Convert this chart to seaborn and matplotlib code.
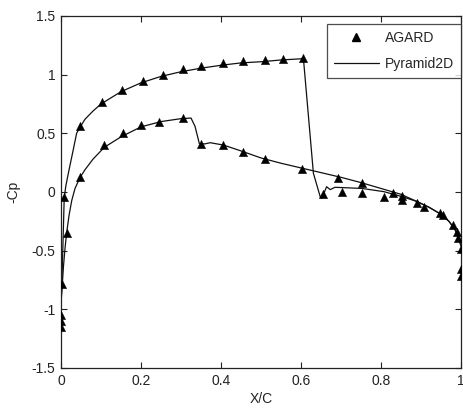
import seaborn as sns
import matplotlib.pyplot as plt
import pandas as pd
from matplotlib.lines import Line2D

# AGARD experimental points (upper and lower surface)
agard_upper_x = [0.0, 0.0, 0.0, 0.002, 0.008, 0.0475, 0.102, 0.152, 0.206, 0.254, 0.306, 0.35,
                 0.406, 0.454, 0.51, 0.556, 0.604, 0.656, 0.702, 0.753, 0.807, 0.853,
                 0.889, 0.948, 0.991, 1.0, 1.0]
agard_upper_cp = [-1.05, -1.10, -1.15, -0.78, -0.04, 0.56, 0.77, 0.87, 0.95, 1.0, 1.045, 1.07,
                  1.1, 1.115, 1.125, 1.135, 1.14, -0.02, 0.0, -0.005, -0.04, -0.07,
                  -0.09, -0.18, -0.34, -0.66, -0.72]
agard_lower_x = [0.014, 0.0475, 0.108, 0.154, 0.199, 0.246, 0.304, 0.35, 0.406, 0.454, 0.51,
                 0.602, 0.693, 0.753, 0.831, 0.852, 0.907, 0.954, 0.981, 0.993, 1.0]
agard_lower_cp = [-0.35, 0.125, 0.40, 0.50, 0.57, 0.60, 0.63, 0.41, 0.40, 0.345, 0.28,
                  0.20, 0.115, 0.075, -0.01, -0.03, -0.13, -0.2, -0.28, -0.39, -0.49]

# Pyramid2D computed distribution
pyr_upper_x = [0.0, 0.002, 0.004, 0.006, 0.008, 0.012, 0.016, 0.022, 0.03, 0.039, 0.047, 0.06,
               0.08, 0.1, 0.15, 0.2, 0.25, 0.3, 0.35, 0.4, 0.45, 0.5, 0.55, 0.6, 0.606,
               0.631, 0.648, 0.652, 0.664, 0.673, 0.685, 0.72, 0.753, 0.807, 0.853, 0.889,
               0.92, 0.95, 0.97, 0.985, 0.995, 1.0]
pyr_upper_cp = [-0.95, -0.8, -0.55, -0.3, -0.05, 0.05, 0.12, 0.22, 0.35, 0.5, 0.55, 0.62,
                0.69, 0.75, 0.855, 0.93, 0.985, 1.025, 1.055, 1.08, 1.1, 1.11, 1.125, 1.135,
                1.14, 0.16, -0.04, -0.055, 0.045, 0.02, 0.04, 0.035, 0.03, 0.003, -0.04,
                -0.08, -0.13, -0.19, -0.25, -0.32, -0.4, -0.46]
pyr_lower_x = [0.0, 0.003, 0.006, 0.01, 0.014, 0.02, 0.027, 0.035, 0.047, 0.06, 0.08, 0.108,
               0.15, 0.2, 0.25, 0.3, 0.325, 0.335, 0.346, 0.36, 0.373, 0.406, 0.45, 0.5,
               0.55, 0.6, 0.65, 0.7, 0.75, 0.8, 0.85, 0.889, 0.92, 0.95, 0.97, 0.985,
               0.995, 1.0]
pyr_lower_cp = [-0.95, -0.8, -0.64, -0.48, -0.35, -0.2, -0.07, 0.03, 0.12, 0.19, 0.28, 0.38,
                0.47, 0.555, 0.6, 0.625, 0.63, 0.56, 0.41, 0.41, 0.42, 0.40, 0.35, 0.29,
                0.245, 0.205, 0.165, 0.125, 0.08, 0.03, -0.02, -0.08, -0.13, -0.19, -0.25,
                -0.32, -0.4, -0.46]

agard = pd.DataFrame({"x": agard_upper_x + agard_lower_x,
                      "cp": agard_upper_cp + agard_lower_cp})
upper = pd.DataFrame({"x": pyr_upper_x, "cp": pyr_upper_cp})
lower = pd.DataFrame({"x": pyr_lower_x, "cp": pyr_lower_cp})

sns.set_style("white")
plt.rcParams["font.family"] = ["Liberation Sans", "DejaVu Sans"]
plt.rcParams["font.size"] = 10

fig = plt.figure(figsize=(4.64, 4.16), dpi=100)
ax = fig.add_axes([0.1315, 0.1154, 0.862, 0.8462])

sns.lineplot(data=upper, x="x", y="cp", sort=False, estimator=None, color="#111111",
             linewidth=0.9, ax=ax)
sns.lineplot(data=lower, x="x", y="cp", sort=False, estimator=None, color="#111111",
             linewidth=0.9, ax=ax)
sns.scatterplot(data=agard, x="x", y="cp", marker="^", color="black", s=36,
                edgecolor="black", linewidth=0.3, zorder=3, ax=ax)

ax.set_xlim(0, 1)
ax.set_ylim(-1.5, 1.5)
ax.set_xticks([0, 0.2, 0.4, 0.6, 0.8, 1])
ax.set_xticklabels(["0", "0.2", "0.4", "0.6", "0.8", "1"])
ax.set_yticks([-1.5, -1, -0.5, 0, 0.5, 1, 1.5])
ax.set_yticklabels(["-1.5", "-1", "-0.5", "0", "0.5", "1", "1.5"])
ax.tick_params(direction="in", length=4, width=0.8, bottom=True, left=True, top=True,
               right=True, labelsize=10, colors="#222222", pad=4)
for s in ax.spines.values():
    s.set_color("#222222")
    s.set_linewidth(0.9)
ax.set_xlabel("X/C", fontsize=10, color="#222222", labelpad=3)
ax.set_ylabel("-Cp", fontsize=10, color="#222222", labelpad=8)

# legend: marker-only entry for AGARD, line-only entry for Pyramid2D
handles = [Line2D([], [], marker="^", linestyle="none", color="black", markersize=6),
           Line2D([], [], color="#111111", linewidth=0.9)]
leg = ax.legend(handles, ["AGARD", "Pyramid2D"], loc="upper right",
                bbox_to_anchor=(1.0, 0.977), borderaxespad=0, fontsize=10, frameon=True,
                fancybox=False, edgecolor="#222222", handlelength=3.3, handletextpad=0.4,
                borderpad=0.5, labelspacing=0.85)
leg.get_frame().set_linewidth(0.9)

fig.savefig("out.png", dpi=100)
